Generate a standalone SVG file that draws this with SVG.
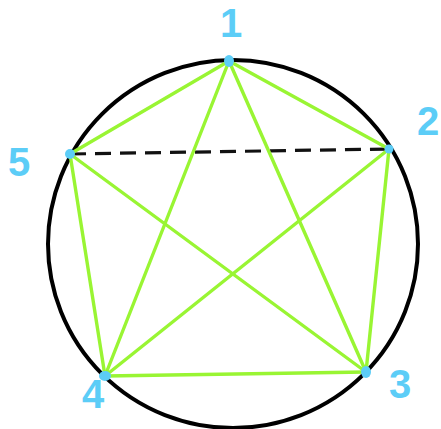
<svg xmlns="http://www.w3.org/2000/svg" width="441" height="429" viewBox="0 0 441 429">
<style>
.edge{stroke:#99f533;stroke-width:3.4;stroke-linecap:round;fill:none}
.dash{stroke:#111;stroke-width:3.2;stroke-dasharray:16 9;fill:none}
.pt{fill:#5ccdf7}
.lbl{fill:#5ccdf7;font-family:"Liberation Sans",Arial,sans-serif;font-size:40px;font-weight:bold;text-anchor:middle}
</style>
<rect width="441" height="429" fill="#fff"/>
<ellipse cx="233" cy="244" rx="185" ry="184" fill="none" stroke="#000" stroke-width="4"/>
<g id="connectors">
<line class="dash" x1="70" y1="154" x2="389" y2="149"/>
<line class="edge" x1="229" y1="61" x2="389" y2="149"/>
<line class="edge" x1="229" y1="61" x2="366" y2="372"/>
<line class="edge" x1="229" y1="61" x2="105" y2="376"/>
<line class="edge" x1="229" y1="61" x2="70" y2="154"/>
<line class="edge" x1="389" y1="149" x2="105" y2="376"/>
<line class="edge" x1="389" y1="149" x2="366" y2="372"/>
<line class="edge" x1="70" y1="154" x2="366" y2="372"/>
<line class="edge" x1="70" y1="154" x2="105" y2="376"/>
<line class="edge" x1="105" y1="376" x2="366" y2="372"/>
</g>
<g id="n1"><ellipse class="pt" cx="229" cy="61" rx="5" ry="6"/><text class="lbl" x="231" y="37">1</text></g>
<g id="n2"><circle class="pt" cx="389" cy="149" r="4.5"/><text class="lbl" x="428" y="135">2</text></g>
<g id="n3"><ellipse class="pt" cx="366" cy="372" rx="5" ry="6"/><text class="lbl" x="400" y="398">3</text></g>
<g id="n4"><ellipse class="pt" cx="105" cy="376" rx="6" ry="5"/><text class="lbl" x="93" y="408">4</text></g>
<g id="n5"><circle class="pt" cx="70" cy="154" r="5"/><text class="lbl" x="19" y="176">5</text></g>
</svg>
